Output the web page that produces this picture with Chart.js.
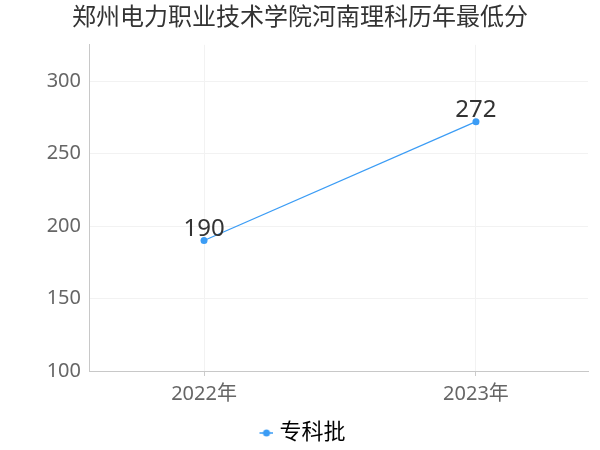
<!DOCTYPE html>
<html>
<head>
<meta charset="utf-8">
<script src="https://cdn.jsdelivr.net/npm/chart.js@4"></script>
<style>
  html, body { margin: 0; padding: 0; background: #fff; }
  #wrap { width: 600px; height: 450px; }
</style>
</head>
<body>
<div id="wrap"><canvas id="myChart" width="600" height="450"></canvas></div>
<script>
// chart data
var years = [2022, 2023];
var scores = [190, 272];
var seriesName = "专科批";
var yTicks = [100, 150, 200, 250, 300];
var chartTitle = "郑州电力职业技术学院河南理科历年最低分";

var lineColor = "#3b9cf5";
var fontFamily = "'Noto Sans', 'Noto Sans CJK SC', sans-serif";

// legend marker: short line with a dot, drawn in the right part of the image
// so it sits close to the label text
var marker = document.createElement("canvas");
marker.width = 24;
marker.height = 10;
var mctx = marker.getContext("2d");
mctx.strokeStyle = lineColor;
mctx.lineWidth = 1.5;
mctx.beginPath();
mctx.moveTo(10, 5);
mctx.lineTo(24, 5);
mctx.stroke();
mctx.fillStyle = lineColor;
mctx.beginPath();
mctx.arc(17, 5, 3.5, 0, Math.PI * 2);
mctx.fill();

// draws value labels above each point
var valueLabels = {
  id: "valueLabels",
  afterDatasetsDraw: function(chart) {
    var ctx = chart.ctx;
    var meta = chart.getDatasetMeta(0);
    ctx.save();
    ctx.font = "24px " + fontFamily;
    ctx.fillStyle = "#333";
    ctx.textAlign = "center";
    ctx.textBaseline = "middle";
    meta.data.forEach(function(pt, i) {
      ctx.fillText(String(scores[i]), pt.x, pt.y - 11);
    });
    ctx.restore();
  }
};

var ctx = document.getElementById("myChart").getContext("2d");
var myChart = new Chart(ctx, {
  type: "line",
  data: {
    datasets: [{
      label: seriesName,
      data: years.map(function(y, i) { return { x: y, y: scores[i] }; }),
      borderColor: lineColor,
      backgroundColor: lineColor,
      borderWidth: 1.2,
      pointRadius: 3.5,
      pointBackgroundColor: lineColor,
      pointBorderWidth: 0,
      tension: 0
    }]
  },
  options: {
    responsive: false,
    animation: false,
    layout: { padding: { left: 12, right: 12, top: 0, bottom: -4 } },
    plugins: {
      title: {
        display: true,
        text: chartTitle,
        color: "#333",
        font: { family: fontFamily, size: 24, weight: "normal" },
        padding: { top: 4, bottom: 12 }
      },
      legend: {
        position: "bottom",
        labels: {
          color: "#333",
          font: { family: fontFamily, size: 22 },
          usePointStyle: true,
          pointStyle: marker,
          pointStyleWidth: 14,
          padding: 3,
          generateLabels: function(chart) {
            return [{
              text: seriesName,
              pointStyle: marker,
              fillStyle: lineColor,
              strokeStyle: lineColor,
              lineWidth: 0,
              datasetIndex: 0
            }];
          }
        }
      },
      tooltip: { enabled: false }
    },
    scales: {
      x: {
        type: "linear",
        min: 2021.577,
        max: 2023.412,
        afterBuildTicks: function(axis) {
          axis.ticks = years.map(function(y) { return { value: y }; });
        },
        afterFit: function(axis) {
          axis.height += 7;
        },
        ticks: {
          color: "#666",
          font: { family: fontFamily, size: 20 },
          padding: 6,
          callback: function(v) { return v + "年"; }
        },
        grid: { color: "#f2f2f2", tickColor: "#ccc", tickLength: 5 },
        border: { color: "#c8c8c8" }
      },
      y: {
        min: 100,
        max: 325,
        afterBuildTicks: function(axis) {
          axis.ticks = yTicks.map(function(v) { return { value: v }; });
        },
        afterFit: function(axis) {
          axis.width = 77;
        },
        ticks: {
          color: "#666",
          font: { family: fontFamily, size: 20 },
          padding: 8
        },
        grid: { color: "#f2f2f2", drawTicks: false },
        border: { color: "#c8c8c8" }
      }
    }
  },
  plugins: [valueLabels]
});
</script>
</body>
</html>
